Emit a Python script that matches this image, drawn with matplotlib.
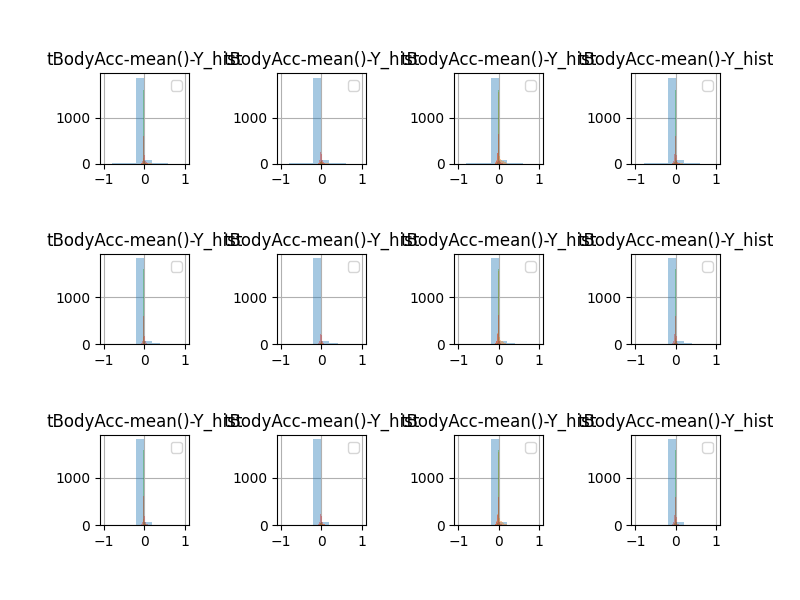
import numpy as np
import matplotlib
matplotlib.use("Agg")
import matplotlib.pyplot as plt

title = "tBodyAcc-mean()-Y_hist"

# wide bins (blue series)
wide_edges = [-1.0, -0.8, -0.6, -0.4, -0.2, 0.0, 0.2, 0.4, 0.6, 0.8, 1.0]
blue_row1 = [0, 15, 12, 18, 1870, 85, 20, 15, 0, 0]
blue_row2 = [0, 8, 8, 12, 1830, 70, 25, 10, 0, 0]
blue_row3 = [0, 0, 0, 6, 1830, 60, 6, 0, 0, 0]

# narrow bins (orange, green, red series)
narrow_edges = [-0.1, -0.08, -0.06, -0.04, -0.02, 0.0, 0.02, 0.04, 0.06, 0.08,
                0.1, 0.12, 0.14, 0.16, 0.18, 0.2]
green_peaks = [1600, 1600, 1600, 1600, 1600, 1600, 1600, 1600, 1600, 1600, 1600, 1600]
red_peaks = [600, 700, 650, 600, 600, 650, 620, 600, 620, 650, 600, 600]
orange_peaks = [120, 250, 1550, 120, 150, 240, 1550, 130, 130, 240, 1550, 120]

green_shape = [0, 0, 0, 0.02, 1.0, 0.04, 0.01, 0, 0, 0, 0, 0, 0, 0, 0]
red_shape = [0, 0.03, 0.1, 0.35, 1.0, 0.3, 0.1, 0.04, 0.02, 0.01, 0, 0, 0, 0, 0]
orange_shape = [0, 0.02, 0.05, 0.15, 1.0, 0.2, 0.1, 0.06, 0.05, 0.04, 0.03, 0.03, 0.02, 0.02, 0.01]

fig, axes = plt.subplots(3, 4, figsize=(8, 6), dpi=100)
plt.subplots_adjust(left=0.125, right=0.9, top=0.878, bottom=0.125, wspace=1, hspace=1)

wide_centers = [(a + b) / 2 for a, b in zip(wide_edges[:-1], wide_edges[1:])]
narrow_centers = [(a + b) / 2 for a, b in zip(narrow_edges[:-1], narrow_edges[1:])]
blue_rows = [blue_row1, blue_row2, blue_row3]

for i, ax in enumerate(axes.flat):
    r = i // 4
    ax.hist(wide_centers, bins=wide_edges, weights=blue_rows[r], alpha=0.4, color="C0")
    ax.hist(narrow_centers, bins=narrow_edges,
            weights=[s * orange_peaks[i] for s in orange_shape], alpha=0.4, color="C1")
    ax.hist(narrow_centers, bins=narrow_edges,
            weights=[s * green_peaks[i] for s in green_shape], alpha=0.4, color="C2")
    ax.hist(narrow_centers, bins=narrow_edges,
            weights=[s * red_peaks[i] for s in red_shape], alpha=0.4, color="C3")
    ax.grid(True)
    ax.set_axisbelow(True)
    ax.set_title(title)
    ax.set_xlim(-1.1, 1.1)
    ax.set_xticks([-1, 0, 1])
    ax.set_yticks([0, 1000])
    ax.legend()

fig.savefig("out.png", dpi=100)
